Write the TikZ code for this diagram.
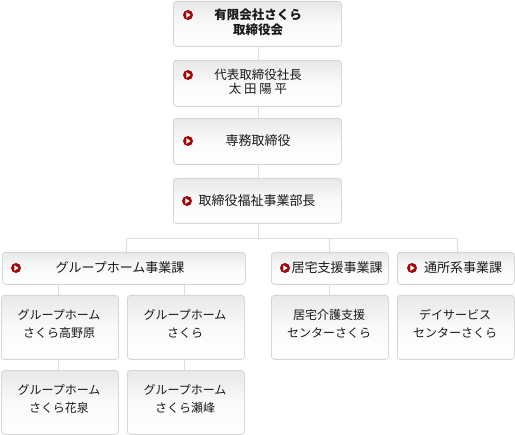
\documentclass[tikz,border=0pt]{standalone}
\usepackage{fontspec}
\setmainfont{Noto Sans CJK JP}
\newfontfamily\jp{Noto Sans CJK JP}
\definecolor{boxline}{HTML}{D6D6D6}
\definecolor{linec}{HTML}{DDDDDD}
\definecolor{bulred}{HTML}{9E0A0A}
\begin{document}
\begin{tikzpicture}[x=1pt,y=-1pt,
  orgbox/.style={draw=boxline, line width=0.8pt, rounded corners=3pt,
    top color=black!9, bottom color=white, middle color=black!2,
    inner sep=0pt, anchor=north west},
  txt/.style={font=\jp\fontsize{13}{15}\selectfont, align=center, inner sep=0pt, text=black!90},
  leaftxt/.style={txt, font=\jp\fontsize{12}{18}\selectfont},
  conn/.style={draw=linec, line width=0.8pt},
  bullet/.pic={
    \fill[bulred] (0,0) circle (5);
    \fill[white] (-1.7,-2.8) -- (2.6,0) -- (-1.7,2.8) -- cycle;
  }]
\useasboundingbox (0,0) rectangle (515,435);
% top column boxes
\node[orgbox, minimum width=168pt, minimum height=45pt] (b1) at (173,1) {};
\node[orgbox, minimum width=168pt, minimum height=46pt] (b2) at (173,60) {};
\node[orgbox, minimum width=168pt, minimum height=46pt] (b3) at (173,118) {};
\node[orgbox, minimum width=168pt, minimum height=45pt] (b4) at (173,178) {};
% section boxes
\node[orgbox, minimum width=243pt, minimum height=32pt] (g) at (2,252) {};
\node[orgbox, minimum width=117pt, minimum height=32pt] (k) at (271,252) {};
\node[orgbox, minimum width=117pt, minimum height=32pt] (t) at (397,252) {};
% leaf boxes
\node[orgbox, minimum width=117pt, minimum height=64pt] (g1) at (1,295) {};
\node[orgbox, minimum width=117pt, minimum height=64pt] (g2) at (127,295) {};
\node[orgbox, minimum width=117pt, minimum height=64pt] (g3) at (1,370) {};
\node[orgbox, minimum width=117pt, minimum height=64pt] (g4) at (127,370) {};
\node[orgbox, minimum width=117pt, minimum height=64pt] (k1) at (271,295) {};
\node[orgbox, minimum width=117pt, minimum height=64pt] (t1) at (397,295) {};
% connectors
\coordinate (j) at (258,238);
\draw[conn] (b1.south -| j) -- (b2.north -| j);
\draw[conn] (b2.south -| j) -- (b3.north -| j);
\draw[conn] (b3.south -| j) -- (b4.north -| j);
\draw[conn] (b4.south -| j) -- (j);
\draw[conn] (126,238) -- (457,238);
\draw[conn] (126,238) -- (g.north -| 126,0);
\draw[conn] (329,238) -- (k.north -| 329,0);
\draw[conn] (457,238) -- (t.north -| 457,0);
\draw[conn] (g.south -| 58,0) -- (g1.north -| 58,0);
\draw[conn] (g.south -| 184,0) -- (g2.north -| 184,0);
\draw[conn] (g1.south -| 58,0) -- (g3.north -| 58,0);
\draw[conn] (g2.south -| 184,0) -- (g4.north -| 184,0);
\draw[conn] (k.south -| 329,0) -- (k1.north -| 329,0);
% bullets
\pic at (188,15) {bullet};
\pic at (188,75) {bullet};
\pic at (188,141) {bullet};
\pic at (187,201) {bullet};
\pic at (16,268) {bullet};
\pic at (285,268) {bullet};
\pic at (412,268) {bullet};
% texts
\node[txt, font=\jp\bfseries\fontsize{12.5}{15}\selectfont] (tb1) at (258,22) {有限会社さくら\\取締役会};
\node[txt, font=\jp\fontsize{12.5}{14}\selectfont] (tb2) at (258,82) {代表取締役社長\\太 田 陽 平};
\node[txt] (tb3) at (258,141) {専務取締役};
\node[txt] (tb4) at (257,201) {取締役福祉事業部長};
\node[txt] (tg) at (120,268) {グループホーム事業課};
\node[txt] (tk) at (337,268) {居宅支援事業課};
\node[txt] (tt) at (463,268) {通所系事業課};
\node[leaftxt] (tg1) at (59,324) {グループホーム\\さくら高野原};
\node[leaftxt] (tg2) at (185,324) {グループホーム\\さくら};
\node[leaftxt] (tg3) at (59,399) {グループホーム\\さくら花泉};
\node[leaftxt] (tg4) at (185,399) {グループホーム\\さくら瀬峰};
\node[leaftxt] (tk1) at (329,324) {居宅介護支援\\センターさくら};
\node[leaftxt] (tt1) at (455,324) {デイサービス\\センターさくら};
\end{tikzpicture}
\end{document}
